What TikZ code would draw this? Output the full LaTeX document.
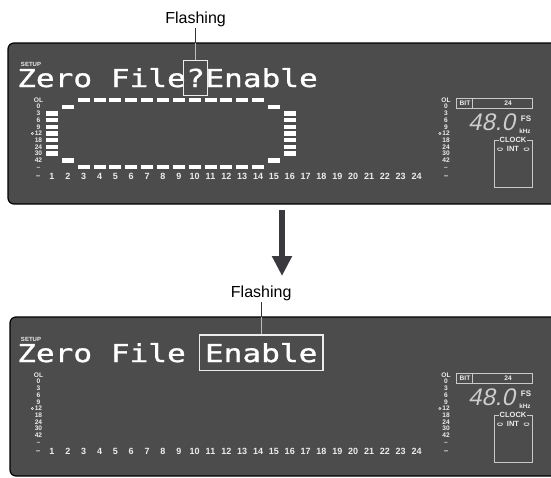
\documentclass[tikz,border=0pt]{standalone}
\usepackage{fontspec}
\setmainfont{Liberation Sans}
\newfontfamily\lcdfont[FakeStretch=1.26,FakeBold=1.2]{DejaVu Sans Mono}
\newfontfamily\segfont[FakeSlant=0.22]{Liberation Sans}
\usetikzlibrary{arrows.meta,positioning,fit}
\definecolor{lcdbg}{RGB}{76,76,76}
\definecolor{lcdfg}{RGB}{236,236,236}
\definecolor{seggray}{RGB}{205,205,205}
\definecolor{arrowgray}{RGB}{58,58,62}
\tikzset{
  panel/.style={draw=black, line width=1.2pt, fill=lcdbg, rounded corners=6pt},
  lcdtext/.style={font=\lcdfont\fontsize{24.7}{26}\selectfont, text=white,
                  inner sep=0pt, anchor=base west},
  scalelbl/.style={font=\bfseries\fontsize{6.6}{6.6}\selectfont, text=lcdfg, inner sep=0pt},
  chnum/.style={font=\bfseries\fontsize{9}{9}\selectfont, text=lcdfg, inner sep=0pt},
  flashbox/.style={draw=lcdfg, line width=1.3pt, inner xsep=2.5pt, inner ysep=8pt},
  flash/.style={font=\fontsize{16}{16}\selectfont, inner sep=1pt},
  lead/.style={draw=black!80, line width=0.8pt},
  leadin/.style={draw=lcdfg!80!black, line width=0.8pt},
  frame/.style={draw=lcdfg!85!black, line width=0.8pt},
  bar/.style={fill=white},
  bigarrow/.style={draw=arrowgray, line width=6pt, -{Triangle[width=19pt,length=20pt]}}
}
% scales, channel numbers and the fs/clock block: same in both panels
\newcommand\lcdcommon{%
  \node[scalelbl, font=\bfseries\fontsize{6}{6}\selectfont] (setup) at (31,64) {SETUP};
  \foreach \s [count=\k from 0] in {OL,0,3,6,9,12,18,24,30,42}{
    \node[scalelbl] (sl\k) at (38.5,100+6.7*\k) {\s};
    \node[scalelbl] (sr\k) at (446,100+6.7*\k) {\s};
  }
  \node[scalelbl] (sl10) at (38.5,168) {--};
  \node[scalelbl] (sr10) at (446,168) {--};
  \draw[lcdfg, line width=0.5pt] ([xshift=-2.2pt]sl5.west) circle (1.1pt);
  \draw[lcdfg, line width=0.5pt] ([xshift=-2.2pt]sr5.west) circle (1.1pt);
  \node[chnum, font=\bfseries\fontsize{8}{8}\selectfont] (cn0) at (38,177) {--};
  \foreach \n in {1,...,24}
    \node[chnum] (cn\n) at ({52+(\n-1)*15.85},176) {\n};
  \node[chnum, font=\bfseries\fontsize{8}{8}\selectfont] (cnr) at (446,177) {--};
  % bit / fs / clock
  \node[frame, minimum width=76pt, minimum height=10pt, inner sep=0pt] (bit) at (494,103) {};
  \draw[frame] ([xshift=17pt]bit.north west) -- ([xshift=17pt]bit.south west);
  \node[scalelbl] (bitt) at (465,103) {BIT};
  \node[scalelbl] (bitv) at (508,103) {24};
  \node[font=\segfont\fontsize{24}{24}\selectfont, text=seggray, inner sep=0pt,
        anchor=base west] (fsval) at (468,130) {48.0};
  \node[scalelbl, font=\bfseries\fontsize{8}{8}\selectfont] (fs) at (526,119) {FS};
  \node[scalelbl, font=\bfseries\fontsize{6.3}{6.3}\selectfont] (khz) at (525,131) {kHz};
  \draw[frame] (494,140) rectangle (532,187);
  \node[scalelbl, fill=lcdbg, inner xsep=1pt, font=\bfseries\fontsize{7.5}{7.5}\selectfont] (clk) at (513,140) {CLOCK};
  \node[scalelbl, font=\bfseries\fontsize{7.5}{7.5}\selectfont] (int) at (513,149) {INT};
  \draw[frame, rounded corners=1pt] (497.5,148) rectangle (502.5,150.4);
  \draw[frame, rounded corners=1pt] (524,148) rectangle (529,150.4);
}

\begin{document}
\begin{tikzpicture}[x=1pt, y=-1pt]
  \useasboundingbox (0,0) rectangle (551,477);
  \clip (0,0) rectangle (551,477);

  % before: question mark flashing
  \begin{scope}[name prefix=p1-]
    \draw[panel] (8,43) rectangle (570,204);
    \coordinate (top) at (0,43);
    \lcdcommon
    \foreach \c in {1,16} \foreach \k in {2,...,8}
      \fill[bar] ({52+(\c-1)*15.85-6},{100+6.7*\k-2.2}) rectangle ++(12,4.4);
    \foreach \c in {2,15} \foreach \k in {1,9}
      \fill[bar] ({52+(\c-1)*15.85-6},{100+6.7*\k-2.2}) rectangle ++(12,4.4);
    \foreach \c in {3,...,14} \foreach \k in {0,10}
      \fill[bar] ({52+(\c-1)*15.85-6},{100+6.7*\k-2.2}) rectangle ++(12,4.4);
    \node[lcdtext] (za) at (17,87) {Zero File};
    \node[lcdtext] (zb) at (za.base east) {?};
    \node[lcdtext] (zc) at (zb.base east) {Enable};
    \node[flashbox, fit=(zb)] (q) {};
    \node[flash, above=32pt of q] (f) {Flashing};
    \draw[lead] (f) -- (q);
    \draw[leadin] (q.north |- top) -- (q.north);
  \end{scope}

  \coordinate (a1) at (282,210);
  \coordinate (a2) at (282,276);
  \draw[bigarrow] (a1) -- (a2);

  % after: Enable flashing
  \begin{scope}[shift={(0,275)}, name prefix=p2-]
    \draw[panel] (10,42) rectangle (570,201);
    \coordinate (top) at (0,42);
    \lcdcommon
    \node[lcdtext] (za) at (17,87) {Zero File};
    \node[lcdtext] (zb) at ([xshift=18.75pt]za.base east) {Enable};
    \node[flashbox, inner xsep=5.5pt, fit=(zb)] (q) {};
    \node[flash, above=32pt of q] (f) {Flashing};
    \draw[lead] (f) -- (q);
    \draw[leadin] (q.north |- top) -- (q.north);
  \end{scope}
\end{tikzpicture}
\end{document}
